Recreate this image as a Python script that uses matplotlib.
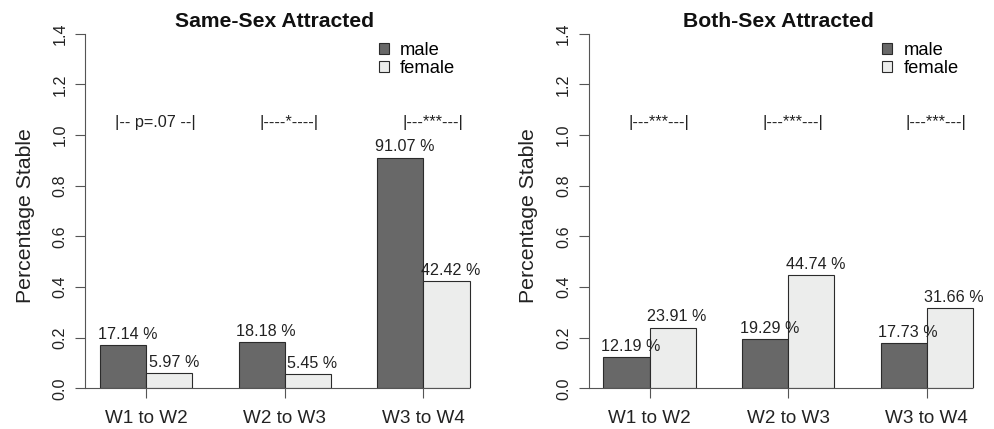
"""Stability of attraction by wave and sex, two-panel barplot."""

import matplotlib
matplotlib.use("Agg")
from matplotlib import pyplot as plt
from matplotlib.patches import Patch

plt.rcParams["font.family"] = ["Liberation Sans", "DejaVu Sans"]

transitions = ["W1 to W2", "W2 to W3", "W3 to W4"]
sexes = ["male", "female"]

# share stable
same_sex_male = [0.1714, 0.1818, 0.9107]
same_sex_female = [0.0597, 0.0545, 0.4242]
both_sex_male = [0.1219, 0.1929, 0.1773]
both_sex_female = [0.2391, 0.4474, 0.3166]

same_sex_sig = ["|-- p=.07 --|", "|----*----|", "|---***---|"]
both_sex_sig = ["|---***---|", "|---***---|", "|---***---|"]

panels = [
    ("Same-Sex Attracted", same_sex_male, same_sex_female, same_sex_sig),
    ("Both-Sex Attracted", both_sex_male, both_sex_female, both_sex_sig),
]

MALE_COL = "#686868"
FEMALE_COL = "#ECEDEC"
EDGE_COL = "#2b2b2b"
AXIS_COL = "#555555"

fig = plt.figure(figsize=(9.95, 4.29), dpi=100)
axes_left = [0.0856, 0.5915]

for (title, male, female, sig), left in zip(panels, axes_left):
    ax = fig.add_axes([left, 0.0949, 0.4012, 0.8265])

    # R style barplot layout: bar width 1, one bar gap between groups
    centers = [3 * i + 2 for i in range(len(transitions))]
    male_x = [c - 0.5 for c in centers]
    female_x = [c + 0.5 for c in centers]
    ax.bar(male_x, male, width=1, color=MALE_COL, edgecolor=EDGE_COL, lw=0.8)
    ax.bar(female_x, female, width=1, color=FEMALE_COL, edgecolor=EDGE_COL, lw=0.8)

    for x, v in zip(male_x + female_x, male + female):
        ax.annotate(f"{v * 100:.2f} %", (x, v), xytext=(3.2, 4.5),
                    textcoords="offset points", ha="center", va="baseline",
                    fontsize=11.6, color="#222222")

    sig_offsets = [0.2, 0.1, 0.2]
    for c, off, s in zip(centers, sig_offsets, sig):
        ax.text(c + off, 1.05, s, ha="center", va="center", fontsize=11.7,
                color="#222222")

    ax.set_xlim(0.68, 9.32)
    ax.set_ylim(0, 1.4)
    ax.hlines(0, 0.68, female_x[-1] + 0.5, color=AXIS_COL, lw=0.8, zorder=3,
              clip_on=False)

    for side in ("top", "right", "bottom"):
        ax.spines[side].set_visible(False)
    ax.spines["left"].set_color(AXIS_COL)
    ax.spines["left"].set_linewidth(0.8)

    ax.set_xticks(centers)
    ax.set_xticklabels(transitions)
    ax.set_yticks([0, 0.2, 0.4, 0.6, 0.8, 1.0, 1.2, 1.4])
    ax.set_yticklabels(["0.0", "0.2", "0.4", "0.6", "0.8", "1.0", "1.2", "1.4"],
                       rotation=90, va="center")
    ax.tick_params(axis="x", length=7.2, width=0.8, color=AXIS_COL, pad=8.3,
                   labelsize=13.6, labelcolor="#222222")
    ax.tick_params(axis="y", length=7.2, width=0.8, color=AXIS_COL, pad=5.5,
                   labelsize=11.6, labelcolor="#222222")

    ax.set_ylabel("Percentage Stable", fontsize=15.3, color="#222222")
    ax.yaxis.set_label_coords(-0.126, 0.488)
    ax.set_title(title, fontweight="bold", fontsize=15.2, x=0.4755, y=1.019,
                 pad=0, color="#111111")

    handles = [Patch(facecolor=MALE_COL, edgecolor=EDGE_COL, lw=0.8),
               Patch(facecolor=FEMALE_COL, edgecolor=EDGE_COL, lw=0.8)]
    ax.legend(handles, sexes, loc="upper left", bbox_to_anchor=(0.736, 0.978),
              frameon=False, borderpad=0, borderaxespad=0, fontsize=13.2,
              handlelength=0.55, handleheight=0.55, handletextpad=0.6,
              labelspacing=0.1)

fig.savefig("out.png", dpi=100)
